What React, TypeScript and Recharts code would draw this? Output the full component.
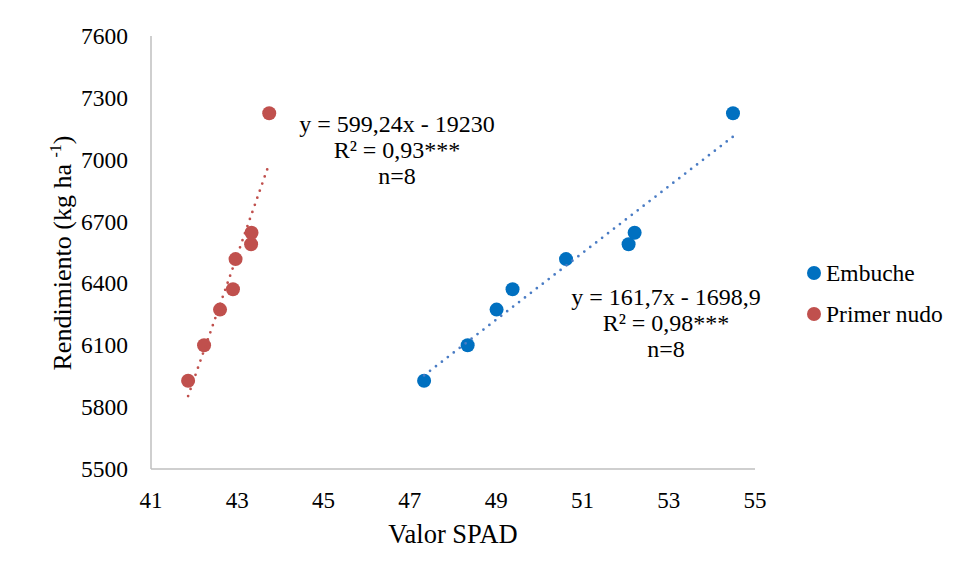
import { ScatterChart, Scatter, XAxis, YAxis, Customized } from 'recharts'

const embuche = [
  { x: 47.33, y: 5928 },
  { x: 48.34, y: 6100 },
  { x: 49.01, y: 6273 },
  { x: 49.38, y: 6372 },
  { x: 50.62, y: 6518 },
  { x: 52.07, y: 6590 },
  { x: 52.21, y: 6646 },
  { x: 54.49, y: 7225 },
]

const primerNudo = [
  { x: 41.86, y: 5928 },
  { x: 42.23, y: 6100 },
  { x: 42.6, y: 6273 },
  { x: 42.9, y: 6372 },
  { x: 42.96, y: 6518 },
  { x: 43.32, y: 6590 },
  { x: 43.33, y: 6646 },
  { x: 43.74, y: 7225 },
]

// trend line ends
const embucheTrend = [
  { x: 47.33, y: 5954 },
  { x: 54.49, y: 7112 },
]
const primerNudoTrend = [
  { x: 41.86, y: 5854 },
  { x: 43.74, y: 6981 },
]

const xTicks = [41, 43, 45, 47, 49, 51, 53, 55]
const yTicks = [5500, 5800, 6100, 6400, 6700, 7000, 7300, 7600]

const embucheEq = ['y = 161,7x - 1698,9', 'R² = 0,98***', 'n=8']
const primerNudoEq = ['y = 599,24x - 19230', 'R² = 0,93***', 'n=8']

const font = 'Liberation Serif, Times New Roman, serif'
const blue = '#0070C0'
const red = '#C0504D'
const blueTrend = '#4a7cc4'
const axisGray = '#bfbfbf'

const legendItems = [
  { name: 'Embuche', color: blue },
  { name: 'Primer nudo', color: red },
]

const serif = { fontFamily: font }

function Dot(props: any) {
  return <circle cx={props.cx} cy={props.cy} r={7} fill={props.fill} />
}

function NoDot() {
  return null
}

function XTick({ x, y, payload }: any) {
  return (
    <text x={x} y={y + 37} textAnchor="middle" style={serif} fontSize={23} fill="#000">
      {payload.value}
    </text>
  )
}

function YTick({ x, y, payload }: any) {
  return (
    <text x={x - 21} y={y + 8} textAnchor="end" style={serif} fontSize={23.5} fill="#000">
      {payload.value}
    </text>
  )
}

function EqBlock({ lines, x, y }: { lines: string[]; x: number; y: number }) {
  return (
    <text x={x} y={y} textAnchor="middle" style={serif} fontSize={24} fill="#000">
      {lines.map((l, i) => (
        <tspan key={i} x={x} dy={i === 0 ? 0 : 26}>
          {l}
        </tspan>
      ))}
    </text>
  )
}

function Overlay() {
  return (
    <g>
      <EqBlock lines={primerNudoEq} x={397} y={132} />
      <EqBlock lines={embucheEq} x={666} y={305} />
      {legendItems.map((s, i) => (
        <g key={s.name}>
          <circle cx={814} cy={273 + i * 41} r={7} fill={s.color} />
          <text x={826} y={281 + i * 41} style={serif} fontSize={23.5} fill="#000">
            {s.name}
          </text>
        </g>
      ))}
    </g>
  )
}

function YTitle() {
  return (
    <text transform="translate(70.5,253) rotate(-90)" textAnchor="middle" style={serif} fontSize={26} fill="#000">
      Rendimiento (kg ha <tspan fontSize={16} dy={-10}>-1</tspan>
      <tspan dy={10}>)</tspan>
    </text>
  )
}

function XTitle() {
  return (
    <text x={453} y={543} textAnchor="middle" style={serif} fontSize={26.5} fill="#000">
      Valor SPAD
    </text>
  )
}

export default function App() {
  return (
    <div style={{ position: 'absolute', left: 0, top: 0, background: '#fff', fontFamily: font }}>
      <ScatterChart width={959} height={580} margin={{ top: 36, right: 204, bottom: 0, left: 0 }} style={serif}>
        <XAxis
          type="number"
          dataKey="x"
          domain={[41, 55]}
          ticks={xTicks}
          tick={XTick}
          tickLine={false}
          tickSize={0}
          axisLine={{ stroke: axisGray, strokeWidth: 1.5 }}
          height={111}
          label={{ content: XTitle }}
        />
        <YAxis
          type="number"
          dataKey="y"
          domain={[5500, 7600]}
          ticks={yTicks}
          tick={YTick}
          tickLine={false}
          tickSize={0}
          axisLine={{ stroke: axisGray, strokeWidth: 1.5 }}
          width={151}
          label={{ content: YTitle }}
        />
        <Scatter name="Embuche" data={embuche} fill={blue} shape={Dot} isAnimationActive={false} />
        <Scatter name="Primer nudo" data={primerNudo} fill={red} shape={Dot} isAnimationActive={false} />
        <Scatter
          data={embucheTrend}
          line={{ stroke: blueTrend, strokeWidth: 2.75, strokeDasharray: '0 7.5', strokeLinecap: 'round' }}
          shape={NoDot}
          isAnimationActive={false}
        />
        <Scatter
          data={primerNudoTrend}
          line={{ stroke: red, strokeWidth: 2.75, strokeDasharray: '0 7.5', strokeLinecap: 'round' }}
          shape={NoDot}
          isAnimationActive={false}
        />
        <Customized component={Overlay} />
      </ScatterChart>
    </div>
  )
}
